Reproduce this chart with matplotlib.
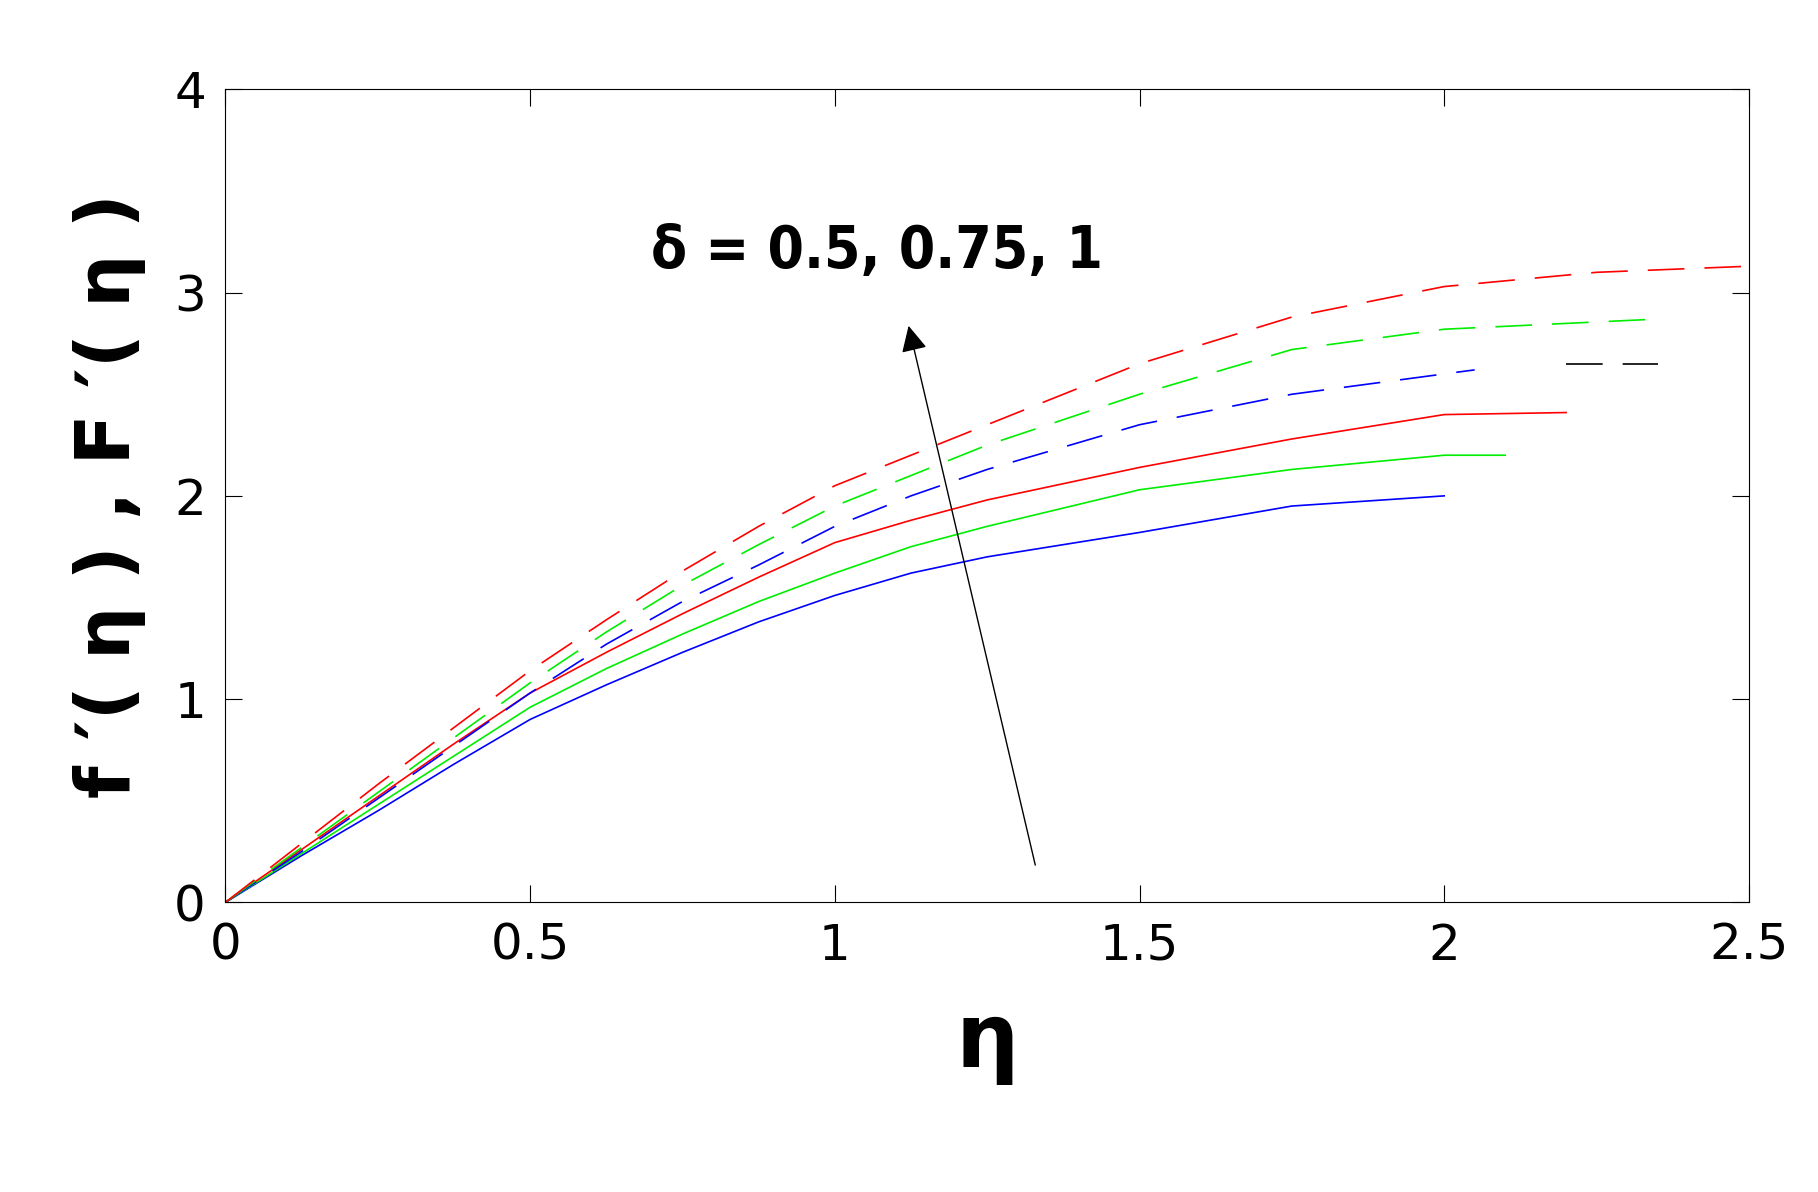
import matplotlib
matplotlib.use('Agg')
import matplotlib.pyplot as plt

plt.rcParams['font.family'] = ['DejaVu Sans']

# solid curves (lower set)
x_solid_b = [0, 0.125, 0.25, 0.375, 0.5, 0.625, 0.75, 0.875, 1.0, 1.125, 1.25, 1.5, 1.75, 2.0]
y_solid_b = [0, 0.23, 0.45, 0.68, 0.90, 1.07, 1.23, 1.38, 1.51, 1.62, 1.70, 1.82, 1.95, 2.0]
x_solid_g = [0, 0.125, 0.25, 0.375, 0.5, 0.625, 0.75, 0.875, 1.0, 1.125, 1.25, 1.5, 1.75, 2.0, 2.1]
y_solid_g = [0, 0.24, 0.48, 0.72, 0.96, 1.15, 1.32, 1.48, 1.62, 1.75, 1.85, 2.03, 2.13, 2.2, 2.2]
x_solid_r = [0, 0.125, 0.25, 0.375, 0.5, 0.625, 0.75, 0.875, 1.0, 1.125, 1.25, 1.5, 1.75, 2.0, 2.2]
y_solid_r = [0, 0.26, 0.52, 0.78, 1.03, 1.23, 1.42, 1.60, 1.77, 1.88, 1.98, 2.14, 2.28, 2.40, 2.41]

# dashed curves (upper set)
x_dash_b = [0, 0.125, 0.25, 0.375, 0.5, 0.625, 0.75, 0.875, 1.0, 1.125, 1.25, 1.5, 1.75, 2.05]
y_dash_b = [0, 0.25, 0.51, 0.77, 1.03, 1.27, 1.48, 1.66, 1.85, 2.00, 2.13, 2.35, 2.50, 2.62]
x_dash_k = [2.2, 2.35]
y_dash_k = [2.65, 2.65]
x_dash_g = [0, 0.125, 0.25, 0.375, 0.5, 0.625, 0.75, 0.875, 1.0, 1.125, 1.25, 1.5, 1.75, 2.0, 2.35]
y_dash_g = [0, 0.27, 0.54, 0.81, 1.08, 1.33, 1.56, 1.76, 1.95, 2.10, 2.25, 2.50, 2.72, 2.82, 2.87]
x_dash_r = [0, 0.125, 0.25, 0.375, 0.5, 0.625, 0.75, 0.875, 1.0, 1.125, 1.25, 1.5, 1.75, 2.0, 2.25, 2.5]
y_dash_r = [0, 0.29, 0.58, 0.86, 1.14, 1.39, 1.63, 1.85, 2.05, 2.20, 2.35, 2.65, 2.88, 3.03, 3.10, 3.13]

fig = plt.figure(figsize=(18.18, 11.92), dpi=100)
ax = fig.add_axes([0.124, 0.243, 0.838, 0.682])

ax.plot(x_solid_b, y_solid_b, color='b', lw=1.2)
ax.plot(x_solid_g, y_solid_g, color='#00ee00', lw=1.2)
ax.plot(x_solid_r, y_solid_r, color='r', lw=1.2)
dash = (0, (22, 12))
ax.plot(x_dash_b, y_dash_b, color='b', lw=1.2, linestyle=dash)
ax.plot(x_dash_k, y_dash_k, color='k', lw=1.2, linestyle=dash)
ax.plot(x_dash_g, y_dash_g, color='#00ee00', lw=1.2, linestyle=dash)
ax.plot(x_dash_r, y_dash_r, color='r', lw=1.2, linestyle=dash)

ax.annotate('', xy=(1.12, 2.85), xytext=(1.33, 0.17),
            arrowprops=dict(arrowstyle='-|>', color='k', lw=1, mutation_scale=40))
ax.text(1.07, 3.2, 'δ = 0.5, 0.75, 1', fontsize=42, ha='center', va='center',
        fontweight='bold', fontstretch='condensed')

ax.set_xlim(0, 2.5)
ax.set_ylim(0, 4)
ax.set_xticks([0, 0.5, 1, 1.5, 2, 2.5])
ax.set_xticklabels(['0', '0.5', '1', '1.5', '2', '2.5'])
ax.set_yticks([0, 1, 2, 3, 4])
ax.tick_params(direction='in', top=True, right=True, length=12, labelsize=36, pad=14)
ax.set_xlabel('η', fontsize=64, labelpad=20, fontweight='bold')
ax.set_ylabel("f ′( η ) , F ′( η )", fontsize=54, labelpad=20, fontweight='bold')

fig.savefig('out.png', dpi=100)
